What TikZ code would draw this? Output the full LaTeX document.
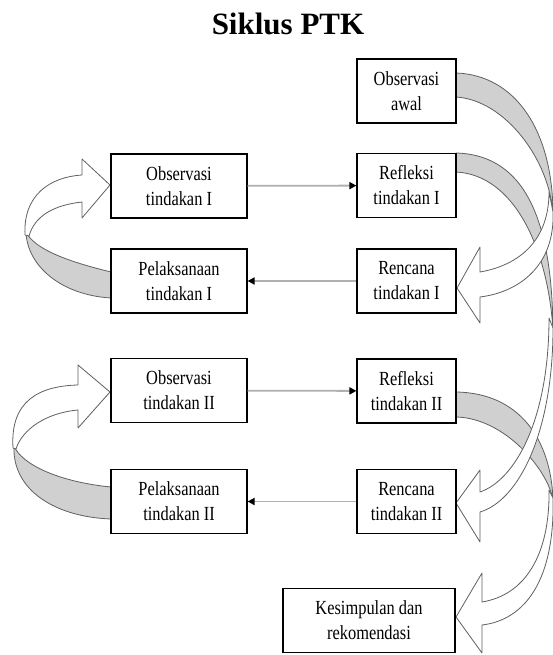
\documentclass[tikz,border=0pt]{standalone}
\usepackage{fontspec}
\setmainfont{Liberation Serif}
\newfontfamily\boxfont[FakeStretch=0.82]{Liberation Serif}
\usetikzlibrary{arrows.meta}
\definecolor{bandgray}{HTML}{D0D0D0}
\definecolor{bandline}{HTML}{606060}
\definecolor{connline}{HTML}{B0B0B0}
\tikzset{
  stagebox/.style={draw=black, line width=1.2pt, fill=white, minimum height=64pt,
    inner sep=0pt, align=center, font=\boxfont\fontsize{20}{25}\selectfont},
  backface/.style={fill=bandgray, draw=bandline, line width=0.8pt, line join=round},
  frontface/.style={fill=white, draw=bandline, line width=0.8pt, line join=round},
  conn/.style={draw=connline, line width=1.8pt,
    -{Triangle[length=7pt,width=7pt,color=black]}},
  titletext/.style={font=\bfseries\fontsize{31}{36}\selectfont, inner sep=0pt}
}
\begin{document}
\begin{tikzpicture}[x=1pt,y=-1pt]
\useasboundingbox (0,0) rectangle (553,655);
\fill[white] (0,0) rectangle (553,655);

\node[titletext, anchor=base] (title) at (288,35) {Siklus PTK};

% ---- curved arrow C: Refleksi II -> Kesimpulan
\draw[backface] (456,392) .. controls (520,393) and (551,440) .. (553,500)
  .. controls (548,470) and (505,418) .. (456,417) -- cycle;
\draw[frontface] (553,498) .. controls (555,580) and (525,620) .. (482,625)
  -- (482,653) -- (456,617) -- (482,573) -- (482,602)
  .. controls (525,595) and (550,555) .. (549,490) -- cycle;

% ---- curved arrow B: Refleksi I -> Rencana II
\draw[backface] (456,153) .. controls (530,155) and (552,230) .. (553,330)
  .. controls (548,250) and (515,175) .. (456,172) -- cycle;
\draw[frontface] (553,328) .. controls (553,430) and (520,500) .. (480,512)
  -- (480,542) -- (456,503) -- (480,470) -- (480,492)
  .. controls (515,480) and (549,420) .. (549,318) -- cycle;

% ---- curved arrow A: Observasi awal -> Rencana I
\draw[backface] (456,73) .. controls (515,75) and (553,130) .. (553,215)
  .. controls (550,160) and (505,100) .. (456,97) -- cycle;
\draw[frontface] (553,212) .. controls (555,265) and (520,292) .. (480,297)
  -- (480,323) -- (457,288) -- (480,247) -- (480,272)
  .. controls (520,265) and (549,240) .. (549,192) -- cycle;

% ---- curved arrow D: Pelaksanaan I -> Observasi I
\draw[backface] (111,272) .. controls (70,262) and (35,250) .. (26,232)
  .. controls (27,265) and (60,295) .. (111,298) -- cycle;
\draw[frontface] (25,235) .. controls (23,195) and (50,177) .. (82,175)
  -- (82,159) -- (110,185) -- (82,218) -- (82,202)
  .. controls (55,205) and (35,215) .. (29,236) -- cycle;

% ---- curved arrow E: Pelaksanaan II -> Observasi II
\draw[backface] (111,487) .. controls (60,482) and (22,465) .. (14,446)
  .. controls (12,490) and (55,517) .. (111,519) -- cycle;
\draw[frontface] (13,448) .. controls (10,400) and (40,386) .. (78,385)
  -- (78,365) -- (110,392) -- (78,428) -- (78,410)
  .. controls (45,413) and (22,430) .. (16,449) -- cycle;

% ---- boxes
\node[stagebox, minimum width=99pt] (awal) at (406.5,91) {Observasi\\awal};
\node[stagebox, minimum width=99pt] (refl1) at (406.5,185.5) {Refleksi\\tindakan I};
\node[stagebox, minimum width=99pt] (ren1) at (406.5,281) {Rencana\\tindakan I};
\node[stagebox, minimum width=136pt] (obs1) at (179,186) {Observasi\\tindakan I};
\node[stagebox, minimum width=136pt] (pel1) at (179,281) {Pelaksanaan\\tindakan I};
\node[stagebox, minimum width=136pt] (obs2) at (179,390.5) {Observasi\\tindakan II};
\node[stagebox, minimum width=99pt] (refl2) at (406.5,391) {Refleksi\\tindakan II};
\node[stagebox, minimum width=136pt] (pel2) at (179,501.5) {Pelaksanaan\\tindakan II};
\node[stagebox, minimum width=99pt] (ren2) at (406.5,501.5) {Rencana\\tindakan II};
\node[stagebox, minimum width=172pt] (kes) at (369,620.5) {Kesimpulan dan\\rekomendasi};

% ---- straight connectors
\draw[conn] (obs1) -- (refl1);
\draw[conn] (ren1) -- (pel1);
\draw[conn] (obs2) -- (refl2);
\draw[conn] (ren2) -- (pel2);
\end{tikzpicture}
\end{document}
